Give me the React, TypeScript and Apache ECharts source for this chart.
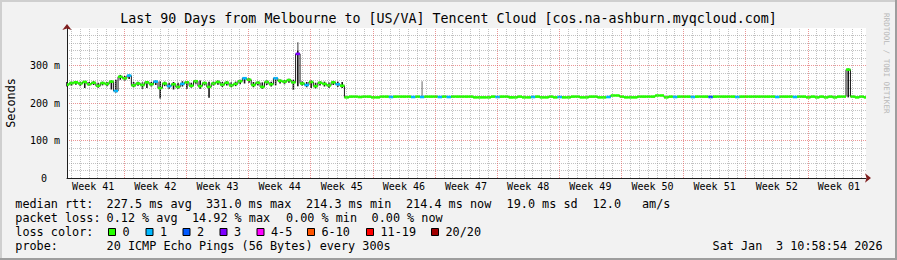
import React, { useEffect, useRef } from 'react';
import * as echarts from 'echarts';

const MONO = '"DejaVu Sans Mono", "Liberation Mono", monospace';

// ---- time layout (days from the left edge of the graph) ----
const SAMPLE_STEP_DAYS = 0.5;
const RANGE_DAYS = 90;
const FIRST_MIDNIGHT = 0.45;
const FIRST_WEEK_START = 6.45;

const weekLabels = ['Week 41', 'Week 42', 'Week 43', 'Week 44', 'Week 45', 'Week 46', 'Week 47', 'Week 48', 'Week 49', 'Week 50', 'Week 51', 'Week 52', 'Week 01'];
const yTickValues = [0, 100, 200, 300];

// ---- median RTT (ms), one value per half day ----
const medianRtt = [
  249, 253, 255, 252, 256, 250, 254, 246, 253, 251,
  257, 232, 270, 266, 273, 247, 252, 248, 255, 250,
  257, 240, 252, 245, 250, 243, 251, 255, 246, 258,
  245, 253, 243, 252, 256, 249, 254, 247, 251, 258,
  266, 262, 248, 254, 243, 256, 250, 266, 259, 257,
  261, 255, 331, 252, 248, 256, 245, 254, 251, 247,
  255, 250, 246,
  215, 217, 217, 216, 217, 217, 215, 215, 217, 217,
  216, 217, 217, 217, 217, 216, 217, 216, 217, 217,
  217, 216, 217, 216, 217, 217, 217, 217, 217, 215,
  215, 215, 215, 217, 216, 217, 217, 215, 215, 217,
  215, 215, 216, 217, 215, 215, 217, 215, 216, 215,
  215, 217, 217, 215, 215, 217, 217, 215, 215, 216,
  220, 220, 217, 215, 215, 215, 217, 217, 217, 217,
  220, 220, 215, 217, 216, 217, 217, 217, 216, 217,
  217, 217, 216, 217, 217, 217, 217, 217, 216, 217,
  217, 217, 217, 217, 217, 217, 217, 216, 217, 217,
  217, 216, 217, 217, 215, 217, 215, 217, 215, 217,
  215, 217, 217, 289, 217, 215, 217, 215,
];

// ---- smoke (spread of the 20 pings), first part of the range ----
const smokeLow = [
  244, 246, 249, 245, 240, 246, 248, 241, 247, 245,
  236, 228, 262, 260, 264, 242, 246, 238, 240, 244,
  248, 212, 245, 238, 236, 238, 244, 238, 241, 250,
  238, 247, 214, 246, 249, 243, 247, 242, 245, 250,
  252, 254, 242, 247, 238, 248, 244, 247, 252, 250,
  254, 235, 245, 246, 242, 240, 239, 247, 244, 240,
  248, 243, 240,
];
const smokeHigh = [
  256, 257, 259, 257, 259, 256, 258, 254, 257, 256,
  260, 262, 275, 272, 276, 256, 257, 255, 259, 256,
  260, 258, 257, 254, 256, 254, 258, 259, 254, 261,
  260, 257, 257, 257, 260, 256, 258, 255, 257, 262,
  269, 266, 256, 258, 255, 260, 257, 269, 263, 261,
  265, 262, 340, 258, 256, 260, 254, 258, 257, 255,
  259, 257, 256,
];
// [sample index, low ms, high ms, share of pings]
const extraSmoke: [number, number, number, number][] = [
  [52, 340, 362, 0.35],
  [80, 217, 258, 0.2],
  [176, 215, 292, 1],
];

// ---- lost pings (of 20) at sample index ----
const lossEvents: [number, number][] = [
  [11, 1], [14, 1], [20, 1], [23, 1], [26, 1], [40, 1], [47, 1], [52, 3], [54, 1], [61, 1],
  [73, 1], [78, 1], [80, 1], [84, 1], [86, 1], [97, 1], [105, 1], [111, 1], [122, 1],
  [137, 1], [141, 1], [145, 2], [151, 1], [160, 1], [164, 1],
];

const lossClasses = [
  { label: '0', color: '#26ff00' },
  { label: '1', color: '#00b8ff' },
  { label: '2', color: '#0059ff' },
  { label: '3', color: '#7e00ff' },
  { label: '4-5', color: '#ff00ff' },
  { label: '6-10', color: '#ff5500' },
  { label: '11-19', color: '#ff0000' },
  { label: '20/20', color: '#a10000' },
];

const titleText = 'Last 90 Days from Melbourne to [US/VA] Tencent Cloud [cos.na-ashburn.myqcloud.com]';
const medianStats = ['median rtt:', '227.5 ms avg', '331.0 ms max', '214.3 ms min', '214.4 ms now', '19.0 ms sd', '12.0', 'am/s'];
const lossStats = ['packet loss:', '0.12 % avg', '14.92 % max', '0.00 % min', '0.00 % now'];
const probeTexts = ['probe:', '20 ICMP Echo Pings (56 Bytes) every 300s'];
const dateTexts = ['Sat Jan', '3 10:58:54 2026'];

// ---- layout ----
const medianStatX = [15.3, 106.6, 206, 306, 406, 506.6, 592.6, 642];
const lossStatX = [15.3, 106.6, 192, 286, 371.6];
const probeX = [15.3, 106.6];
const dateX = [712.6, 776];
const lossBoxX = [108, 145.5, 182.5, 219.5, 256.5, 307, 366, 431];
const ROW_Y = [204.3, 218.3, 232.3, 246.3];

function lossClass(n: number) {
  if (n <= 0) return 0;
  if (n <= 3) return n;
  if (n <= 5) return 4;
  if (n <= 10) return 5;
  if (n <= 19) return 6;
  return 7;
}

function buildOption(): any {
  const lossMap = new Map<number, number>(lossEvents);
  const medianPoints = medianRtt.map((v, i) => [i * SAMPLE_STEP_DAYS, v, lossMap.get(i) ?? 0]);
  const linePoints = medianRtt.map((v, i) => [i * SAMPLE_STEP_DAYS, v]);
  const smokeItems = [
    ...smokeLow.map((lo, i) => [i * SAMPLE_STEP_DAYS, lo, smokeHigh[i], 1]),
    ...extraSmoke.map(([i, lo, hi, s]) => [i * SAMPLE_STEP_DAYS, lo, hi, s]),
  ];

  const weekMids = weekLabels.map((_, k) => FIRST_WEEK_START - 3.5 + 7 * k);
  const gridMarks: any[] = [];
  for (let d = FIRST_MIDNIGHT; d < RANGE_DAYS; d += 1) {
    const isWeek = Math.abs(((d - FIRST_WEEK_START) % 7 + 7) % 7) < 0.01;
    if (isWeek) continue;
    gridMarks.push({ xAxis: d, lineStyle: { color: 'rgba(143,143,143,0.55)', type: [1, 1], width: 1 } });
  }
  for (let d = FIRST_WEEK_START; d < RANGE_DAYS; d += 7) {
    gridMarks.push({ xAxis: d, lineStyle: { color: 'rgba(222,79,79,0.6)', type: [1, 1], width: 1 } });
  }

  const text = (t: string, x: number, y: number, size = 11.8, extra: any = {}) => ({
    type: 'text', x, y, silent: true,
    style: { text: t, fontFamily: MONO, fontSize: size, fill: '#000', align: 'left', verticalAlign: 'middle', ...(extra.style || {}) },
    ...(extra.el || {}),
  });

  const graphics: any[] = [
    { type: 'rect', silent: true, shape: { x: 0, y: 0, width: 897, height: 2 }, style: { fill: '#cfcfcf' } },
    { type: 'rect', silent: true, shape: { x: 0, y: 0, width: 2, height: 260 }, style: { fill: '#cfcfcf' } },
    { type: 'rect', silent: true, shape: { x: 0, y: 258, width: 897, height: 2 }, style: { fill: '#9e9e9e' } },
    { type: 'rect', silent: true, shape: { x: 895, y: 0, width: 2, height: 260 }, style: { fill: '#9e9e9e' } },
    text(titleText, 448.5, 18.7, 13.3, { style: { align: 'center' } }),
    text('RRDTOOL / TOBI OETIKER', 886, 13, 7.6, { style: { fill: '#b8b8b8' }, el: { rotation: -Math.PI / 2 } }),
  ];
  medianStats.forEach((t, k) => graphics.push(text(t, medianStatX[k], ROW_Y[0])));
  lossStats.forEach((t, k) => graphics.push(text(t, lossStatX[k], ROW_Y[1])));
  graphics.push(text('loss color:', 15.3, ROW_Y[2]));
  lossClasses.forEach((c, k) => {
    graphics.push({ type: 'rect', silent: true, shape: { x: lossBoxX[k] + 0.5, y: 228.5, width: 7, height: 7 }, style: { fill: c.color, stroke: '#000', lineWidth: 1 } });
    graphics.push(text(c.label, lossBoxX[k] + 14.5, ROW_Y[2]));
  });
  probeTexts.forEach((t, k) => graphics.push(text(t, probeX[k], ROW_Y[3])));
  dateTexts.forEach((t, k) => graphics.push(text(t, dateX[k], ROW_Y[3])));

  return {
    animation: false,
    backgroundColor: '#f2f2f2',
    grid: {
      left: 67, top: 28, width: 799, height: 150, show: true, backgroundColor: '#ffffff', borderWidth: 0,
      containLabel: false, outerBoundsMode: 'none',
    },
    xAxis: [
      {
        type: 'value', min: 0, max: RANGE_DAYS,
        axisLine: { show: true, onZero: false, lineStyle: { color: '#1f1f1f', width: 1 } },
        axisTick: { show: false },
        splitLine: { show: false },
        axisLabel: {
          customValues: weekMids,
          formatter: (v: number) => weekLabels[Math.round((v - weekMids[0]) / 7)] ?? '',
          fontFamily: MONO, fontSize: 10, color: '#000', margin: 3,
        },
      },
      {
        type: 'value', min: 0, max: RANGE_DAYS, position: 'bottom',
        axisLine: { show: true, onZero: false, symbol: ['none', 'arrow'], symbolSize: [7, 6], symbolOffset: [0, 5], lineStyle: { color: '#801f1f', width: 0 } },
        axisTick: { show: false }, axisLabel: { show: false }, splitLine: { show: false },
      },
    ],
    yAxis: [
      {
        type: 'value', min: 0, max: 400, interval: 100,
        name: 'Seconds', nameLocation: 'middle', nameGap: 50, nameRotate: 90,
        nameTextStyle: { fontFamily: MONO, fontSize: 11.8, color: '#000' },
        axisLine: { show: true, onZero: false, lineStyle: { color: '#1f1f1f', width: 1 } },
        axisTick: { show: false },
        axisLabel: {
          fontFamily: MONO, fontSize: 10, color: '#000', margin: 7,
          formatter: (v: number) => (yTickValues.includes(v) ? (v === 0 ? '{z|0}' : `${v} m`) : ''),
          rich: { z: { fontFamily: MONO, fontSize: 10, color: '#000', padding: [0, 13, 0, 0] } },
        },
        splitLine: { show: true, showMaxLine: false, lineStyle: { color: 'rgba(222,79,79,0.6)', type: [1, 1], width: 1 } },
        minorTick: { show: false, splitNumber: 5 },
        minorSplitLine: { show: true, lineStyle: { color: 'rgba(143,143,143,0.55)', type: [1, 1], width: 1 } },
      },
      {
        type: 'value', min: 0, max: 400, position: 'left',
        axisLine: { show: true, onZero: false, symbol: ['none', 'arrow'], symbolSize: [7, 6], symbolOffset: [0, 4], lineStyle: { color: '#801f1f', width: 0 } },
        axisTick: { show: false }, axisLabel: { show: false }, splitLine: { show: false },
      },
    ],
    series: [
      {
        type: 'line', data: [], z: 1, silent: true,
        markLine: { silent: true, symbol: ['none', 'none'], label: { show: false }, animation: false, data: gridMarks },
      },
      {
        type: 'custom', z: 2, silent: true,
        encode: { x: 0, y: [1, 2] },
        data: smokeItems,
        renderItem: (params: any, api: any) => {
          const x = api.value(0), lo = api.value(1), hi = api.value(2), s = api.value(3);
          const a = api.coord([x, lo]);
          const b = api.coord([x, hi]);
          return {
            type: 'rect',
            shape: { x: a[0] - 0.8, y: b[1], width: 1.6, height: a[1] - b[1] },
            style: { fill: `rgba(10,10,10,${0.25 + 0.7 * s})` },
          };
        },
      },
      {
        type: 'line', z: 3, silent: true, step: 'middle', showSymbol: false, symbol: 'none',
        data: linePoints,
        lineStyle: { color: '#1a1a1a', width: 1 },
      },
      {
        type: 'custom', z: 4, silent: true,
        encode: { x: 0, y: 1 },
        data: medianPoints,
        renderItem: (params: any, api: any) => {
          const x = api.value(0), v = api.value(1), lost = api.value(2);
          const cs = params.coordSys;
          const a = api.coord([x - SAMPLE_STEP_DAYS / 2, v]);
          const b = api.coord([x + SAMPLE_STEP_DAYS / 2, v]);
          const x0 = Math.max(a[0], cs.x);
          const x1 = Math.min(b[0], cs.x + cs.width);
          return {
            type: 'rect',
            shape: { x: x0, y: a[1] - 1.3, width: x1 - x0, height: 2.6 },
            style: { fill: lossClasses[lossClass(lost)].color },
          };
        },
      },
    ],
    graphic: graphics,
  };
}

export default function App() {
  const ref = useRef<HTMLDivElement>(null);
  useEffect(() => {
    const el = ref.current!;
    const chart = echarts.init(el, undefined, { renderer: 'svg' });
    chart.setOption(buildOption());
    return () => chart.dispose();
  }, []);
  return <div ref={ref} style={{ position: 'absolute', left: 0, top: 0, width: 897, height: 260 }} />;
}
